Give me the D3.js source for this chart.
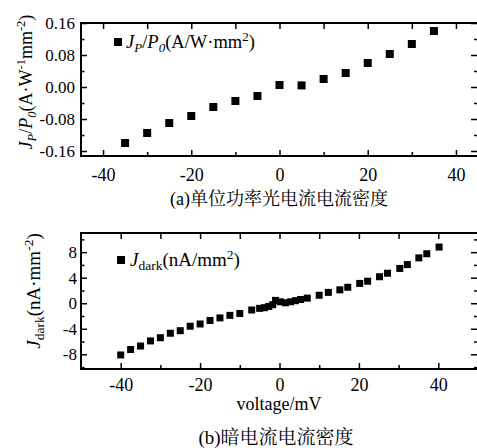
<!DOCTYPE html>
<html><head><meta charset="utf-8">
<script src="https://cdn.jsdelivr.net/npm/d3@7/dist/d3.min.js"></script>
<style>
body{margin:0;background:#fff}
text{font-family:"Liberation Serif","Times New Roman",serif;fill:#000}
.cjk{font-family:"Noto Serif CJK SC","Noto Sans CJK SC",serif}
</style></head>
<body><svg id="c" width="477" height="448"></svg>
<script>
// Panel (a): unit-power photocurrent density
const voltageA = [-35,-30,-25,-20,-15,-10,-5,0,5,10,15,20,25,30,35];
const jpA = [-0.14,-0.115,-0.09,-0.0725,-0.05,-0.035,-0.0225,0.005,0.004,0.02,0.035,0.06,0.0825,0.1075,0.14];
const xTicksA = [-40,-20,0,20,40];
const yTicksA = [-0.16,-0.08,0.00,0.08,0.16];

// Panel (b): dark current density
const voltageB = [-40,-37.5,-35,-32.5,-30,-27.5,-25,-22.5,-20,-17.5,-15,-12.5,-10,-7,-5,-3.8,-2.7,-1.7,-1,0.2,1.5,2.8,4,5.3,7,10,12.3,15.2,17.2,20.2,22.2,25.2,27.2,30.3,32.2,35.1,37.1,40.2];
const jdB = [-8.1,-7.25,-6.7,-5.9,-5.4,-4.7,-4.3,-3.6,-3.25,-2.7,-2.3,-1.9,-1.6,-1.06,-0.8,-0.7,-0.5,-0.23,0.45,0.23,0.07,0.23,0.4,0.58,0.8,1.25,1.7,2.1,2.5,3.1,3.45,4.15,4.7,5.45,6.05,7.1,7.75,8.8];
const xTicksB = [-40,-20,0,20,40];
const yTicksB = [-8,-4,0,4,8];

const svg = d3.select("#c");

function panel(cfg){
  const g = svg.append("g");
  const x = d3.scaleLinear().domain(cfg.xd).range([cfg.L, cfg.R]);
  const y = d3.scaleLinear().domain(cfg.yd).range([cfg.B, cfg.T]);
  // minor ticks
  const mk = (axis, scale, vals, size, tr) => {
    const a = axis(scale).tickValues(vals).tickSize(size).tickFormat("");
    const s = g.append("g").attr("transform", tr).call(a);
    s.select(".domain").remove();
    s.selectAll("line").attr("stroke","#000").attr("stroke-width",1.5);
    return s;
  };
  // bottom
  const bx = g.append("g").attr("transform",`translate(0,${cfg.B})`)
    .call(d3.axisBottom(x).tickValues(cfg.xt).tickSize(-6).tickPadding(cfg.xpad).tickFormat(d3.format("d")));
  bx.select(".domain").remove();
  bx.selectAll("line").attr("stroke","#000").attr("stroke-width",1.5);
  bx.selectAll("text").attr("font-size",18).attr("font-family","Liberation Serif").text(d=>d<0?"-"+Math.abs(d):d);
  mk(d3.axisBottom, x, cfg.xm, -4, `translate(0,${cfg.B})`);
  mk(d3.axisTop, x, cfg.xt.concat(cfg.xm), -6, `translate(0,${cfg.T})`);
  // left
  const ly = g.append("g").attr("transform",`translate(${cfg.L},0)`)
    .call(d3.axisLeft(y).tickValues(cfg.yt).tickSize(-6).tickPadding(cfg.ypad).tickFormat(cfg.yf));
  ly.select(".domain").remove();
  ly.selectAll("line").attr("stroke","#000").attr("stroke-width",1.5);
  ly.selectAll("text").attr("font-size",17).attr("font-family","Liberation Serif");
  mk(d3.axisLeft, y, cfg.ym, -3.5, `translate(${cfg.L},0)`);
  mk(d3.axisRight, y, cfg.yt, -7, `translate(${cfg.R},0)`);
  mk(d3.axisRight, y, cfg.ym, -4, `translate(${cfg.R},0)`);
  // frame
  g.append("rect").attr("x",cfg.L).attr("y",cfg.T).attr("width",cfg.R-cfg.L).attr("height",cfg.B-cfg.T)
    .attr("fill","none").attr("stroke","#000").attr("stroke-width",2);
  // points
  const s = cfg.ms;
  g.selectAll("rect.pt").data(cfg.xs.map((v,i)=>[v,cfg.ys[i]])).enter().append("rect")
    .attr("class","pt").attr("x",d=>x(d[0])-s/2).attr("y",d=>y(d[1])-s/2)
    .attr("width",s).attr("height",s).attr("fill","#000");
  return {g,x,y};
}

const A = panel({L:81,R:478,T:23,B:156,xd:[-45,45],yd:[-0.1725,0.16],
  xt:xTicksA,xm:[-30,-10,10,30],yt:yTicksA,ym:[-0.12,-0.04,0.04,0.12],
  yf:d3.format(".2f"),xpad:12,ypad:6,xs:voltageA,ys:jpA,ms:8});
A.g.selectAll("g.tick text").filter(function(){return +this.textContent<0 && this.textContent.indexOf("-")<0;});

const B = panel({L:81,R:478,T:233,B:369,xd:[-50,50],yd:[-10.3,11],
  xt:xTicksB,xm:[-30,-10,10,30],yt:yTicksB,ym:[-10,-6,-2,2,6,10],
  yf:d=>d<0?"-"+Math.abs(d):d,xpad:9,ypad:4,xs:voltageB,ys:jdB,ms:7});

// y-axis tick labels: use "-" hyphen
svg.selectAll("g.tick text").each(function(){ this.textContent = this.textContent.replace("−","-"); });

// Legend (a)
svg.append("rect").attr("x",114).attr("y",38).attr("width",8).attr("height",8).attr("fill","#000");
const la = svg.append("text").attr("x",126).attr("y",48).attr("font-size",18.5);
la.append("tspan").attr("font-style","italic").text("J");
la.append("tspan").attr("font-style","italic").attr("font-size",13).attr("dy",4).text("P");
la.append("tspan").attr("dy",-4).text("/");
la.append("tspan").attr("font-style","italic").text("P");
la.append("tspan").attr("font-style","italic").attr("font-size",13).attr("dy",4).text("0");
la.append("tspan").attr("dy",-4).text("(A/W·mm");
la.append("tspan").attr("font-size",13).attr("dy",-7).text("2");
la.append("tspan").attr("dy",7).text(")");

// Legend (b)
svg.append("rect").attr("x",117).attr("y",256).attr("width",8).attr("height",8).attr("fill","#000");
const lb = svg.append("text").attr("x",130).attr("y",266).attr("font-size",19);
lb.append("tspan").attr("font-style","italic").text("J");
lb.append("tspan").attr("font-size",13.5).attr("dy",4).text("dark");
lb.append("tspan").attr("dy",-4).text("(nA/mm");
lb.append("tspan").attr("font-size",13.5).attr("dy",-7).text("2");
lb.append("tspan").attr("dy",7).text(")");

// Y label (a)
const ya = svg.append("text").attr("transform","translate(32,82) rotate(-90)").attr("text-anchor","middle").attr("font-size",18);
ya.append("tspan").attr("font-style","italic").text("J");
ya.append("tspan").attr("font-style","italic").attr("font-size",12.5).attr("dy",4).text("P");
ya.append("tspan").attr("dy",-4).text("/");
ya.append("tspan").attr("font-style","italic").text("P");
ya.append("tspan").attr("font-style","italic").attr("font-size",12.5).attr("dy",4).text("0");
ya.append("tspan").attr("dy",-4).text("(A·W");
ya.append("tspan").attr("font-size",12.5).attr("dy",-7).text("-1");
ya.append("tspan").attr("dy",7).text("mm");
ya.append("tspan").attr("font-size",12.5).attr("dy",-7).text("-2");
ya.append("tspan").attr("dy",7).text(")");

// Y label (b)
const yb = svg.append("text").attr("transform","translate(40,291) rotate(-90)").attr("text-anchor","middle").attr("font-size",19);
yb.append("tspan").attr("font-style","italic").text("J");
yb.append("tspan").attr("font-size",13.5).attr("dy",4).text("dark");
yb.append("tspan").attr("dy",-4).text("(nA·mm");
yb.append("tspan").attr("font-size",13.5).attr("dy",-7).text("-2");
yb.append("tspan").attr("dy",7).text(")");

// captions
const ca = svg.append("text").attr("x",279).attr("y",205).attr("text-anchor","middle").attr("font-size",18);
ca.append("tspan").text("(a)");
ca.append("tspan").attr("class","cjk").text("单位功率光电流电流密度");

svg.append("text").attr("x",279).attr("y",410).attr("text-anchor","middle").attr("font-size",18).text("voltage/mV");

const cb = svg.append("text").attr("x",276).attr("y",444).attr("text-anchor","middle").attr("font-size",19);
cb.append("tspan").text("(b)");
cb.append("tspan").attr("class","cjk").text("暗电流电流密度");
</script></body></html>
